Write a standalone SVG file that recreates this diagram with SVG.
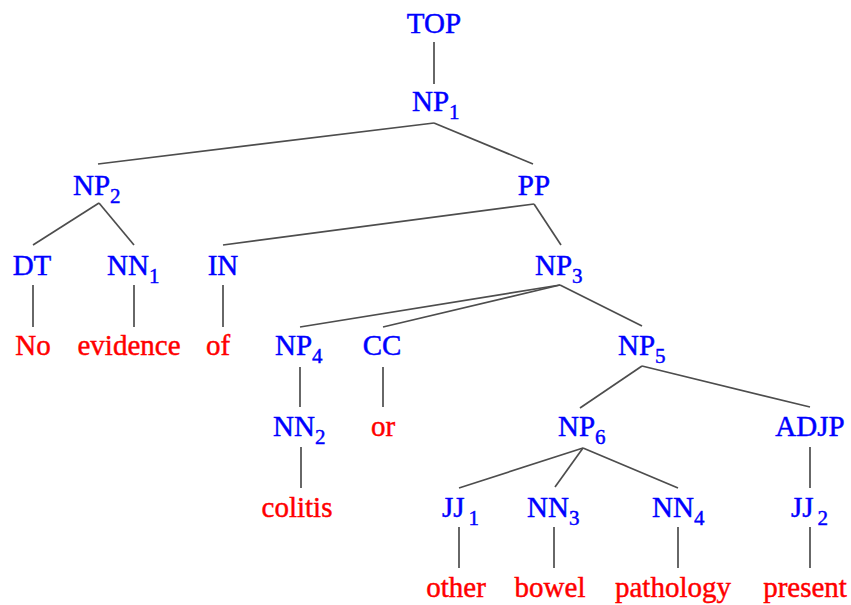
<svg xmlns="http://www.w3.org/2000/svg" width="851" height="605" viewBox="0 0 851 605">
<style>
text{font-family:"Liberation Serif","Times New Roman",serif;font-size:29px;stroke-width:0.45px}
.n{fill:#0000ff;stroke:#0000ff}
.w{fill:#ff0000;stroke:#ff0000}
.s{font-size:21px}
.e line{stroke:#4d4d4d;stroke-width:1.7}
</style>
<rect width="851" height="605" fill="#fff"/>
<g class="e" id="edges">
<line x1="434" y1="42" x2="434" y2="84"/>
<line x1="434" y1="123" x2="98" y2="164"/>
<line x1="434" y1="123" x2="533" y2="164"/>
<line x1="99" y1="203" x2="33" y2="245"/>
<line x1="99" y1="203" x2="134" y2="245"/>
<line x1="534" y1="204" x2="223" y2="245"/>
<line x1="534" y1="204" x2="561" y2="245"/>
<line x1="33" y1="285" x2="33" y2="327"/>
<line x1="134" y1="285" x2="134" y2="327"/>
<line x1="223" y1="285" x2="223" y2="327"/>
<line x1="560" y1="285" x2="300" y2="327"/>
<line x1="560" y1="285" x2="383" y2="327"/>
<line x1="560" y1="285" x2="642" y2="326"/>
<line x1="300" y1="367" x2="300" y2="407"/>
<line x1="383" y1="367" x2="383" y2="407"/>
<line x1="642" y1="366" x2="580" y2="408"/>
<line x1="642" y1="366" x2="810" y2="407"/>
<line x1="301" y1="447" x2="301" y2="488"/>
<line x1="810" y1="447" x2="810" y2="488"/>
<line x1="583" y1="448" x2="459" y2="488"/>
<line x1="583" y1="448" x2="555" y2="487"/>
<line x1="583" y1="448" x2="678" y2="488"/>
<line x1="459" y1="527" x2="459" y2="568"/>
<line x1="554" y1="527" x2="554" y2="568"/>
<line x1="678" y1="527" x2="678" y2="568"/>
<line x1="810" y1="527" x2="810" y2="568"/>
</g>
<g id="TOP"><text class="n" x="434" y="33" text-anchor="middle">TOP</text></g>
<g id="NP1"><text class="n" x="412" y="111">NP<tspan class="s" dy="8">1</tspan></text></g>
<g id="NP2"><text class="n" x="73" y="195">NP<tspan class="s" dy="8">2</tspan></text></g>
<g id="PP"><text class="n" x="534" y="195" text-anchor="middle">PP</text></g>
<g id="DT"><text class="n" x="32" y="275" text-anchor="middle">DT</text></g>
<g id="NN1"><text class="n" x="107" y="275">NN<tspan class="s" dy="8">1</tspan></text></g>
<g id="IN"><text class="n" x="223" y="275" text-anchor="middle">IN</text></g>
<g id="NP3"><text class="n" x="535" y="275">NP<tspan class="s" dy="8">3</tspan></text></g>
<g id="w-No"><text class="w" x="33" y="355" text-anchor="middle">No</text></g>
<g id="w-evidence"><text class="w" x="129" y="355" text-anchor="middle">evidence</text></g>
<g id="w-of"><text class="w" x="218" y="355" text-anchor="middle">of</text></g>
<g id="NP4"><text class="n" x="275" y="355">NP<tspan class="s" dy="8">4</tspan></text></g>
<g id="CC"><text class="n" x="382" y="355" text-anchor="middle">CC</text></g>
<g id="NP5"><text class="n" x="618" y="355">NP<tspan class="s" dy="8">5</tspan></text></g>
<g id="NN2"><text class="n" x="273" y="436">NN<tspan class="s" dy="8">2</tspan></text></g>
<g id="w-or"><text class="w" x="383" y="436" text-anchor="middle">or</text></g>
<g id="NP6"><text class="n" x="558" y="436">NP<tspan class="s" dy="8">6</tspan></text></g>
<g id="ADJP"><text class="n" x="810" y="436" text-anchor="middle">ADJP</text></g>
<g id="w-colitis"><text class="w" x="297" y="517" text-anchor="middle">colitis</text></g>
<g id="JJ1"><text class="n" x="442" y="517">JJ<tspan class="s" dx="4" dy="8">1</tspan></text></g>
<g id="NN3"><text class="n" x="527" y="517">NN<tspan class="s" dy="8">3</tspan></text></g>
<g id="NN4"><text class="n" x="652" y="517">NN<tspan class="s" dy="8">4</tspan></text></g>
<g id="JJ2"><text class="n" x="791" y="517">JJ<tspan class="s" dx="4" dy="8">2</tspan></text></g>
<g id="w-other"><text class="w" x="456" y="597" text-anchor="middle">other</text></g>
<g id="w-bowel"><text class="w" x="550" y="597" text-anchor="middle">bowel</text></g>
<g id="w-pathology"><text class="w" x="673" y="597" text-anchor="middle">pathology</text></g>
<g id="w-present"><text class="w" x="805" y="597" text-anchor="middle">present</text></g>
</svg>
